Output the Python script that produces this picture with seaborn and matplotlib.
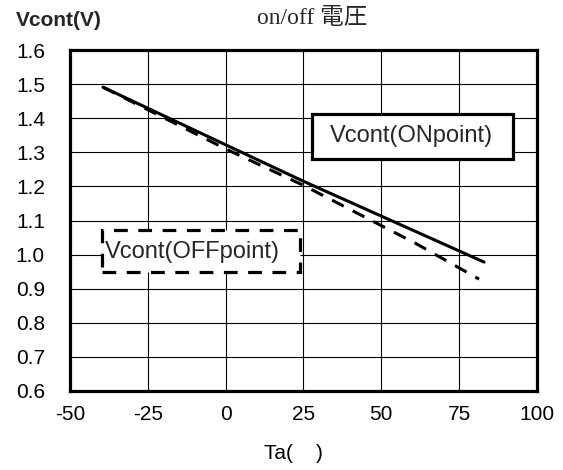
import matplotlib
matplotlib.use('Agg')
import matplotlib.pyplot as plt
import matplotlib.patches as mpatches
import seaborn as sns
import pandas as pd

# data
ta_on = [-39.4, 0, 25, 83]
v_on = [1.491, 1.322, 1.215, 0.978]
ta_off = [-39.4, 0, 25, 61, 81.4]
v_off = [1.491, 1.31, 1.203, 1.033, 0.928]

x_ticks = [-50, -25, 0, 25, 50, 75, 100]
y_ticks = [0.6, 0.7, 0.8, 0.9, 1.0, 1.1, 1.2, 1.3, 1.4, 1.5, 1.6]

sns.set_theme(style="white")
plt.rcParams['font.family'] = ['Liberation Sans', 'Noto Sans CJK JP']
plt.rcParams['axes.unicode_minus'] = False

fig = plt.figure(figsize=(5.63, 4.70), dpi=100)
ax = fig.add_axes([0.1243, 0.1681, 0.8295, 0.7255])

df_on = pd.DataFrame({'Ta': ta_on, 'V': v_on})
df_off = pd.DataFrame({'Ta': ta_off, 'V': v_off})
sns.lineplot(data=df_on, x='Ta', y='V', ax=ax, color='black', lw=2.2)
sns.lineplot(data=df_off, x='Ta', y='V', ax=ax, color='black', lw=2.2,
             linestyle=(0, (4.3, 3.3)))

ax.set_xlim(-50, 100)
ax.set_ylim(0.6, 1.6)
ax.set_xticks(x_ticks)
ax.set_yticks(y_ticks)
ax.set_yticklabels([f'{v:.1f}' for v in y_ticks])
ax.grid(True, color='black', lw=0.8)
ax.tick_params(axis='x', length=0, labelsize=15, pad=10, colors='black')
ax.tick_params(axis='y', length=0, labelsize=15, pad=18, colors='black')
for s in ax.spines.values():
    s.set_color('black')
    s.set_linewidth(2.3)

ax.set_xlabel('Ta(    )', fontsize=15, color='black')
ax.xaxis.set_label_coords(0.478, -0.155)
ax.set_ylabel('')

# label boxes
ax.add_patch(mpatches.Rectangle((27.7, 1.280), 64.6, 0.132, fc='white',
                                ec='black', lw=2.3, zorder=5))
ax.text(33.5, 1.348, 'Vcont(ONpoint)', fontsize=17, ha='left', va='center',
        zorder=6)
ax.add_patch(mpatches.Rectangle((-39.7, 0.949), 63.6, 0.123, fc='white',
                                ec='black', lw=2.3, ls=(0, (4.3, 3.3)),
                                zorder=5))
ax.text(-38.8, 1.008, 'Vcont(OFFpoint)', fontsize=17, ha='left', va='center',
        zorder=6)

fig.text(312 / 563, 1 - 18 / 470, 'on/off 電圧', fontsize=17, ha='center',
         va='center', family=['Liberation Serif', 'Noto Sans CJK JP'])
fig.text(16 / 563, 1 - 21 / 470, 'Vcont(V)', fontsize=15, ha='left',
         va='center', fontweight='bold')

fig.savefig('out.png', dpi=100)
